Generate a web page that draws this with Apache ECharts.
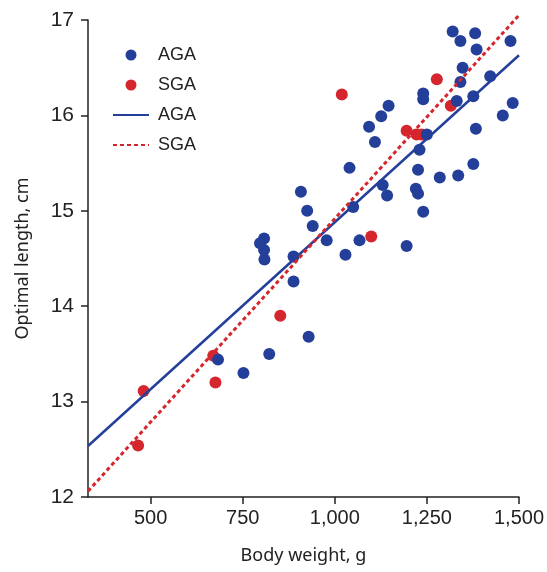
<!DOCTYPE html>
<html>
<head>
<meta charset="utf-8">
<script src="https://cdn.jsdelivr.net/npm/echarts@6/dist/echarts.min.js"></script>
<style>
  html, body { margin: 0; padding: 0; background: #fff; }
  #chart { width: 547px; height: 572px; }
</style>
</head>
<body>
<div id="chart"></div>
<script>
// body weight (g), optimal length (cm)
var agaPoints = [
    [683, 13.44], [752, 13.30], [822, 13.50], [929, 13.68], [888, 14.26],
    [808, 14.71], [797, 14.66], [808, 14.59], [809, 14.49], [888, 14.52],
    [908, 15.20], [925, 15.00], [940, 14.84], [978, 14.69], [1029, 14.54],
    [1067, 14.69], [1040, 15.45], [1050, 15.04], [1130, 15.27], [1142, 15.16],
    [1093, 15.88], [1109, 15.72], [1126, 15.99], [1146, 16.10], [1195, 14.63],
    [1220, 15.23], [1226, 15.18], [1240, 14.99], [1226, 15.43], [1230, 15.64],
    [1250, 15.80], [1240, 16.23], [1240, 16.17], [1285, 15.35], [1335, 15.37],
    [1376, 15.49], [1383, 15.86], [1331, 16.15], [1341, 16.35], [1347, 16.50],
    [1376, 16.20], [1422, 16.41], [1320, 16.88], [1341, 16.78], [1381, 16.86],
    [1385, 16.69], [1477, 16.78], [1483, 16.13], [1456, 16.00]
];
var sgaPoints = [
    [466, 12.54], [481, 13.11], [670, 13.48], [676, 13.20], [852, 13.90],
    [1019, 16.22], [1099, 14.73], [1195, 15.84], [1222, 15.80], [1236, 15.80],
    [1277, 16.38], [1315, 16.10]
];
// fitted lines (end points)
var agaFit = [[330, 12.535], [1500, 16.63]];
var sgaFit = [[330, 12.06], [1500, 17.05]];
var xTicks = [500, 750, 1000, 1250, 1500];

var blue = '#233f99';
var red = '#d5262e';
var tickFont = '"Liberation Sans", Arial, sans-serif';
var nameFont = '"Noto Sans", sans-serif';

var myChart = echarts.init(document.getElementById('chart'));
myChart.setOption({
    animation: false,
    grid: { left: 88, top: 20, right: 26, bottom: 75 },
    legend: {
        left: 112,
        top: 46,
        padding: 0,
        orient: 'vertical',
        itemWidth: 36,
        itemHeight: 11,
        itemGap: 12,
        textStyle: { fontFamily: tickFont, fontSize: 18, color: '#222', padding: [0, 0, 0, 4] },
        data: [
            { name: 'AGA', icon: 'circle' },
            { name: 'SGA', icon: 'circle' },
            { name: 'AGA ', itemStyle: { opacity: 0 } },
            { name: 'SGA ', itemStyle: { opacity: 0 } }
        ],
        formatter: function (n) { return n.trim(); }
    },
    xAxis: {
        type: 'value',
        min: 330,
        max: 1500,
        name: 'Body weight, g',
        nameLocation: 'middle',
        nameGap: 50,
        nameTextStyle: { fontFamily: nameFont, fontSize: 18, color: '#222' },
        splitLine: { show: false },
        axisLine: { lineStyle: { color: '#222', width: 1.5 } },
        axisTick: { customValues: xTicks, length: 7, lineStyle: { color: '#222', width: 1.5 } },
        axisLabel: {
            customValues: xTicks,
            margin: 11,
            fontFamily: tickFont,
            fontSize: 20,
            color: '#222',
            formatter: function (v) { return v.toLocaleString('en-US'); }
        }
    },
    yAxis: {
        type: 'value',
        min: 12,
        max: 17,
        interval: 1,
        name: 'Optimal length, cm',
        nameLocation: 'middle',
        nameGap: 56,
        nameTextStyle: { fontFamily: nameFont, fontSize: 18, color: '#222' },
        splitLine: { show: false },
        axisLine: { show: true, lineStyle: { color: '#222', width: 1.5 } },
        axisTick: { show: true, length: 7, lineStyle: { color: '#222', width: 1.5 } },
        axisLabel: { margin: 14, fontFamily: tickFont, fontSize: 21, color: '#222' }
    },
    series: [
        {
            name: 'AGA',
            type: 'scatter',
            data: agaPoints,
            symbolSize: 12,
            itemStyle: { color: blue, opacity: 1 },
            z: 3
        },
        {
            name: 'SGA',
            type: 'scatter',
            data: sgaPoints,
            symbolSize: 12,
            itemStyle: { color: red, opacity: 1 },
            z: 2
        },
        {
            name: 'AGA ',
            type: 'line',
            data: agaFit,
            symbol: 'none',
            clip: false,
            lineStyle: { color: blue, width: 2.5 },
            itemStyle: { color: blue },
            z: 4
        },
        {
            name: 'SGA ',
            type: 'line',
            data: sgaFit,
            symbol: 'none',
            clip: false,
            lineStyle: { color: red, width: 3, type: [4, 3] },
            itemStyle: { color: red },
            z: 4
        }
    ]
});
</script>
</body>
</html>
